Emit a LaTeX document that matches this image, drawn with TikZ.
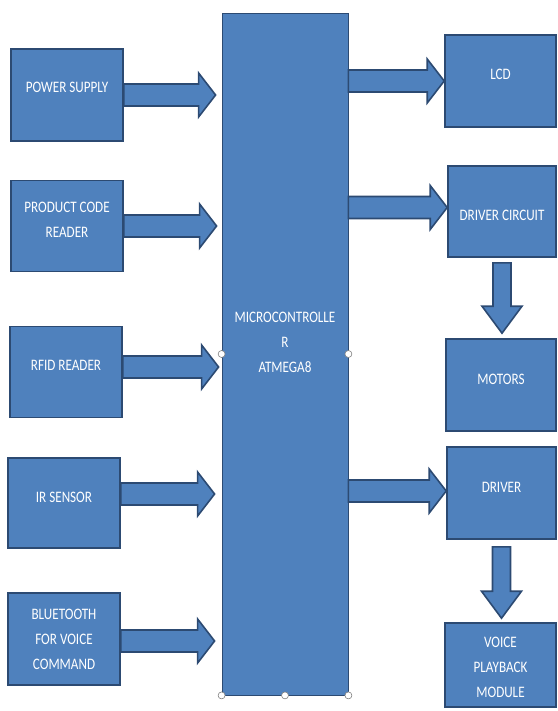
\documentclass[tikz,border=0pt]{standalone}
\usepackage{fontspec}
\setmainfont{Carlito}[FakeStretch=0.82]
\usepackage{tikz}
\usetikzlibrary{calc}

\definecolor{boxblue}{HTML}{4F81BD}
\definecolor{boxedge}{HTML}{2C4A72}

% block arrow pointing right, from #1 to #2
\newcommand{\rarrow}[2]{%
  \path[blockarrow] let \p1=#1, \p2=#2 in
    (\x1,\y1+11pt) -- (\x2-17pt,\y1+11pt) -- (\x2-17pt,\y1+22pt) -- (\x2,\y1) --
    (\x2-17pt,\y1-22pt) -- (\x2-17pt,\y1-11pt) -- (\x1,\y1-11pt) -- cycle;}
% block arrow pointing down, from #1 to #2
\newcommand{\darrow}[2]{%
  \path[blockarrow] let \p1=#1, \p2=#2 in
    (\x1-9pt,\y1) -- (\x1-9pt,\y2+27pt) -- (\x1-20pt,\y2+27pt) -- (\x1,\y2) --
    (\x1+20pt,\y2+27pt) -- (\x1+9pt,\y2+27pt) -- (\x1+9pt,\y1) -- cycle;}

\begin{document}
\begin{tikzpicture}[x=1pt, y=-1pt,
	block/.style={shape=rectangle, draw=boxedge, fill=boxblue, line width=1.6pt, text=white, align=center, inner sep=0pt, font=\fontsize{16}{25}\selectfont},
	lift/.style={text depth=#1},
	blockarrow/.style={draw=boxedge, fill=boxblue, line width=1.6pt, line join=miter},
	handle/.style={draw=gray, fill=white, line width=0.6pt}]

	\useasboundingbox (0,0) rectangle (557,711);

	\node[block, minimum width=126pt, minimum height=682pt, line width=0.8pt, lift=24pt] (mcu) at (285, 354) {MICROCONTROLLE\\R\\ATMEGA8};

	\node[block, minimum width=112pt, minimum height=92pt, lift=16pt] (ps)   at (67, 95)  {POWER SUPPLY};
	\node[block, minimum width=112pt, minimum height=91pt, lift=12pt] (pcr)  at (67, 226) {PRODUCT CODE\\READER};
	\node[block, minimum width=112pt, minimum height=91pt, lift=14pt] (rfid) at (66, 372) {RFID READER};
	\node[block, minimum width=112pt, minimum height=90pt, lift=12pt] (ir)   at (64, 503) {IR SENSOR};
	\node[block, minimum width=112pt, minimum height=92pt] (bt)   at (64, 639) {BLUETOOTH\\FOR VOICE\\COMMAND};

	\node[block, minimum width=111pt, minimum height=92pt, lift=14pt] (lcd)  at (500.5, 81)  {LCD};
	\node[block, minimum width=108pt, minimum height=91pt, text height=17.5pt] (dc) at (502, 211.5) {DRIVER CIRCUIT};
	\node[block, minimum width=110pt, minimum height=92pt, lift=12pt] (mot)  at (501, 385)   {MOTORS};
	\node[block, minimum width=109pt, minimum height=92pt, lift=12pt] (drv)  at (501.5, 493) {DRIVER};
	\node[block, minimum width=111pt, minimum height=84pt, text height=66pt] (vpm) at (500.5, 665) {VOICE\\PLAYBACK\\MODULE};

	% inputs
	\rarrow{(ps.east)}{([xshift=-6pt]ps.east -| mcu.west)}
	\rarrow{(pcr.east)}{([xshift=-5pt]pcr.east -| mcu.west)}
	\rarrow{([yshift=5pt]rfid.east)}{([xshift=-3pt,yshift=5pt]rfid.east -| mcu.west)}
	\rarrow{([yshift=9pt]ir.east)}{([xshift=-7pt,yshift=9pt]ir.east -| mcu.west)}
	\rarrow{([yshift=-2pt]bt.east)}{([xshift=-7pt,yshift=-2pt]bt.east -| mcu.west)}

	% outputs
	\rarrow{(mcu.east |- lcd.west)}{(lcd.west)}
	\rarrow{([yshift=4pt]mcu.east |- dc.west)}{([yshift=4pt]dc.west)}
	\rarrow{([yshift=2pt]mcu.east |- drv.west)}{([yshift=2pt]drv.west)}
	\darrow{([yshift=-5pt]dc.south)}{([yshift=5pt]mot.north)}
	\darrow{([yshift=-7pt]drv.south)}{([yshift=4pt]vpm.north)}

	% handles
	\draw[handle] (mcu.west) circle (3.5pt);
	\draw[handle] (mcu.east) circle (3.5pt);
	\draw[handle] (mcu.south west) circle (3.5pt);
	\draw[handle] (mcu.south) circle (3.5pt);
	\draw[handle] (mcu.south east) circle (3.5pt);

\end{tikzpicture}
\end{document}
